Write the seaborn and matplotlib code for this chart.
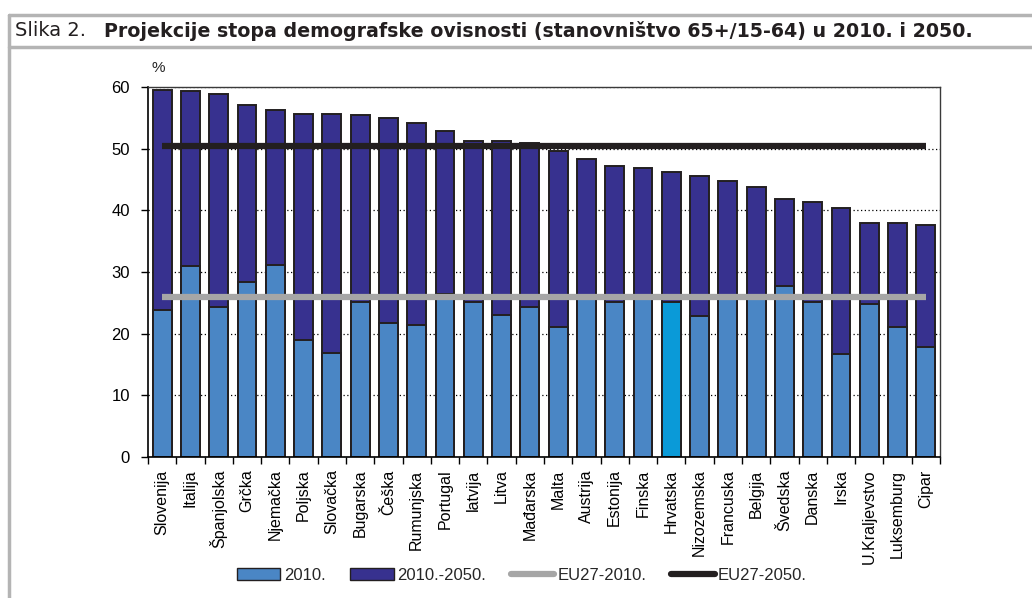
import pandas as pd
import matplotlib
matplotlib.use("Agg")
import matplotlib.pyplot as plt
import seaborn as sns
from matplotlib.patches import Patch
from matplotlib.lines import Line2D

# ---- Data ---- #
countries = ['Slovenija', 'Italija', 'Španjolska', 'Grčka', 'Njemačka', 'Poljska',
             'Slovačka', 'Bugarska', 'Češka', 'Rumunjska', 'Portugal', 'latvija',
             'Litva', 'Mađarska', 'Malta', 'Austrija', 'Estonija', 'Finska',
             'Hrvatska', 'Nizozemska', 'Francuska', 'Belgija', 'Švedska', 'Danska',
             'Irska', 'U.Kraljevstvo', 'Luksemburg', 'Cipar']
ratio_2010 = [23.8, 31.0, 24.3, 28.3, 31.2, 18.9, 16.9, 25.2, 21.8, 21.4, 26.5, 25.1,
              23.1, 24.3, 21.1, 26.0, 25.1, 25.8, 25.1, 22.9, 25.9, 25.9, 27.8, 25.1,
              16.7, 24.8, 21.1, 17.9]
ratio_2050 = [59.5, 59.3, 58.9, 57.1, 56.3, 55.6, 55.6, 55.4, 54.9, 54.2, 52.9, 51.2,
              51.2, 50.9, 49.7, 48.3, 47.2, 46.8, 46.2, 45.5, 44.8, 43.8, 41.8, 41.3,
              40.3, 37.9, 37.9, 37.7]
eu27_2010 = 25.9
eu27_2050 = 50.4
highlight = 'Hrvatska'

df = pd.DataFrame({'country': countries, 'y2010': ratio_2010, 'y2050': ratio_2050})

# ---- Colours ---- #
light = '#4a86c5'
dark = '#37318f'
bright = '#0a9ad8'
edge = '#231f20'
frame_grey = '#b4b4b4'

sns.set_theme(style='white')
plt.rcParams['font.family'] = ['Liberation Sans', 'DejaVu Sans']

W, H = 1032, 598
fig = plt.figure(figsize=(W / 100, H / 100), dpi=100)
ax = fig.add_axes([148 / W, 1 - 457 / H, 792 / W, 370 / H])

# total 2050 bars first, 2010 part over them
sns.barplot(data=df, x='country', y='y2050', color=dark, width=0.67, saturation=1,
            edgecolor=edge, linewidth=1.4, ax=ax, zorder=2)
palette = {c: (bright if c == highlight else light) for c in countries}
sns.barplot(data=df, x='country', y='y2010', hue='country', palette=palette, legend=False,
            width=0.67, saturation=1, edgecolor=edge, linewidth=1.4, ax=ax, zorder=2)

# EU27 averages, from first to last bar centre
ax.hlines(eu27_2010, 0, len(countries) - 1, color='#a6a6a6', lw=4.5, zorder=4)
ax.hlines(eu27_2050, 0, len(countries) - 1, color=edge, lw=4.5, zorder=4)

ax.set_xlim(-0.5, len(countries) - 0.5)
ax.set_ylim(0, 60)
ax.set_yticks(range(0, 61, 10))
ax.set_xlabel('')
ax.set_ylabel('')

ax.yaxis.grid(True, color='black', linestyle=(0, (1, 2)), linewidth=0.9)
ax.set_axisbelow(True)

ax.set_xticks(range(len(countries)))
ax.set_xticklabels(countries, rotation=90, fontsize=11.5)
ax.set_xticks([i + 0.5 for i in range(-1, len(countries))], minor=True)
ax.tick_params(axis='x', which='major', length=0, pad=9, colors='black')
ax.tick_params(axis='x', which='minor', bottom=True, length=5, width=1, color='black')
ax.tick_params(axis='y', left=True, length=5, width=1, pad=8, labelsize=12, colors='black')

for side in ['left', 'bottom']:
    ax.spines[side].set_color('black')
    ax.spines[side].set_linewidth(1.2)
for side in ['top', 'right']:
    ax.spines[side].set_color('#3a3a3a')
    ax.spines[side].set_linewidth(1.0)

fig.text(152 / W, 1 - 68 / H, '%', fontsize=11, ha='left', va='center')

# title row
fig.text(15 / W, 1 - 31 / H, 'Slika 2.', fontsize=14, family='DejaVu Sans',
         ha='left', va='center', color=edge)
fig.text(104 / W, 1 - 31 / H,
         'Projekcije stopa demografske ovisnosti (stanovništvo 65+/15-64) u 2010. i 2050.',
         fontsize=13.7, fontweight='bold', family='DejaVu Sans', ha='left', va='center',
         color=edge)

# grey frame around the figure
for (x0, y0, x1, y1) in [(8.5, 14.5, W, 14.5), (8.5, 46.5, W, 46.5), (8.5, 14.5, 8.5, H)]:
    fig.add_artist(Line2D([x0 / W, x1 / W], [1 - y0 / H, 1 - y1 / H],
                          transform=fig.transFigure, color=frame_grey, lw=2.5))

handles = [Patch(facecolor=light, edgecolor=edge, linewidth=1, label='2010.'),
           Patch(facecolor=dark, edgecolor=edge, linewidth=1, label='2010.-2050.'),
           Line2D([], [], color='#a6a6a6', lw=4.5, label='EU27-2010.'),
           Line2D([], [], color=edge, lw=4.5, label='EU27-2050.')]
fig.legend(handles=handles, loc='center', bbox_to_anchor=(522 / W, 1 - 575 / H), ncol=4,
           frameon=False, fontsize=12, handlelength=2.6, handleheight=0.7,
           handletextpad=0.2, columnspacing=1.5)

fig.savefig('out.png', dpi=100)
